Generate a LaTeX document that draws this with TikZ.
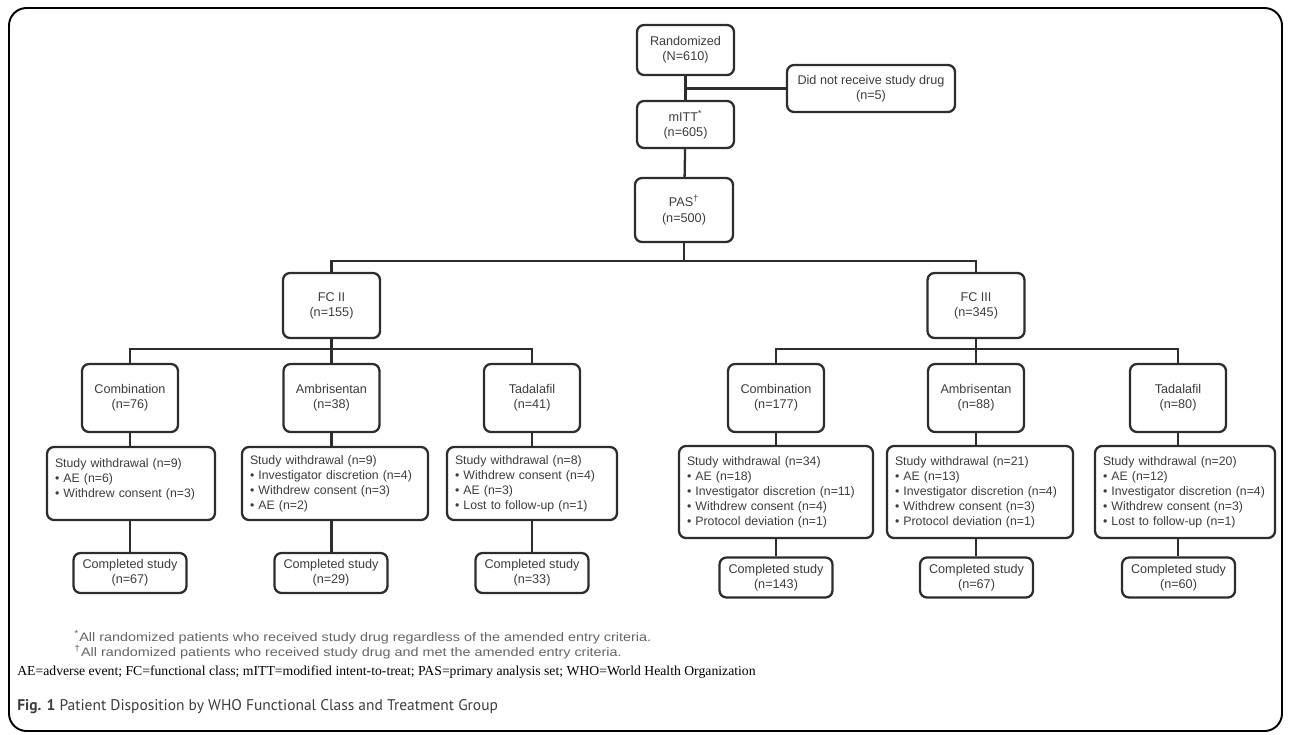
\documentclass[tikz,border=0pt]{standalone}
\usepackage{graphicx}
\usepackage{fontspec}
\setmainfont{Liberation Sans}
\newfontfamily\abbrfont{Liberation Serif}
\newfontfamily\capfont{PT Sans}
\usetikzlibrary{positioning}
\definecolor{linegray}{RGB}{45,45,45}
\definecolor{textgray}{RGB}{60,60,60}
\definecolor{notegray}{RGB}{100,100,100}

\begin{document}
\begin{tikzpicture}[x=0.02cm,y=-0.02cm,
    box/.style={draw=linegray,line width=1.3pt,rounded corners=4pt,align=center,
      font=\fontsize{7.2}{8.6}\selectfont,text=textgray,inner sep=1pt},
    wdbox/.style={box,align=left,inner xsep=0.16cm,font=\fontsize{7}{8.5}\selectfont},
    note/.style={anchor=west,inner sep=0pt,text=notegray,font=\fontsize{7}{8}\selectfont},
    link/.style={draw=linegray,line width=1.3pt}]
  \useasboundingbox (0,0) rectangle (1290,734);
  \draw[line width=1.1pt,rounded corners=10pt] (9,8) rectangle (1282,731);

  % top of the chart
  \node[box,minimum width=1.94cm,minimum height=1cm] (rand) at (685.5,50) {Randomized\\(N=610)};
  \node[box,minimum width=3.36cm,minimum height=0.94cm] (dnr) at (871,88.5) {Did not receive study drug\\(n=5)};
  \node[box,minimum width=1.94cm,minimum height=0.94cm] (mitt) at (685.5,124.5) {mITT\textsuperscript{*}\\(n=605)};
  \node[box,minimum width=1.96cm,minimum height=1.28cm] (pas) at (684,210) {PAS\textsuperscript{†}\\(n=500)};

  \node[box,minimum width=1.94cm,minimum height=1.3cm] (fc2) at (331.5,305.5) {FC II\\(n=155)};
  \node[box,minimum width=1.94cm,minimum height=1.3cm] (fc3) at (976,305.5) {FC III\\(n=345)};

  % treatment arms
  \node[box,minimum width=1.92cm,minimum height=1.36cm] (comb2) at (130,398) {Combination\\(n=76)};
  \node[box,minimum width=1.92cm,minimum height=1.36cm] (amb2) at (331.5,398) {Ambrisentan\\(n=38)};
  \node[box,minimum width=1.92cm,minimum height=1.36cm] (tad2) at (532,398) {Tadalafil\\(n=41)};
  \node[box,minimum width=1.92cm,minimum height=1.36cm] (comb3) at (776,398) {Combination\\(n=177)};
  \node[box,minimum width=1.92cm,minimum height=1.36cm] (amb3) at (976,398) {Ambrisentan\\(n=88)};
  \node[box,minimum width=1.92cm,minimum height=1.36cm] (tad3) at (1178,398) {Tadalafil\\(n=80)};

  % withdrawals
  \node[wdbox,text width=3.04cm,minimum height=1.46cm,text depth=0.8cm] (wdcomb2) at (131,483.5) {Study withdrawal (n=9)\\• AE (n=6)\\• Withdrew consent (n=3)};
  \node[wdbox,text width=3.4cm,minimum height=1.46cm] (wdamb2) at (335,483.5) {Study withdrawal (n=9)\\• Investigator discretion (n=4)\\• Withdrew consent (n=3)\\• AE (n=2)};
  \node[wdbox,text width=3.08cm,minimum height=1.46cm] (wdtad2) at (532,483.5) {Study withdrawal (n=8)\\• Withdrew consent (n=4)\\• AE (n=3)\\• Lost to follow-up (n=1)};
  \node[wdbox,text width=3.56cm,minimum height=1.84cm] (wdcomb3) at (776,492) {Study withdrawal (n=34)\\• AE (n=18)\\• Investigator discretion (n=11)\\• Withdrew consent (n=4)\\• Protocol deviation (n=1)};
  \node[wdbox,text width=3.4cm,minimum height=1.84cm] (wdamb3) at (980,492) {Study withdrawal (n=21)\\• AE (n=13)\\• Investigator discretion (n=4)\\• Withdrew consent (n=3)\\• Protocol deviation (n=1)};
  \node[wdbox,text width=3.28cm,minimum height=1.84cm] (wdtad3) at (1185,492) {Study withdrawal (n=20)\\• AE (n=12)\\• Investigator discretion (n=4)\\• Withdrew consent (n=3)\\• Lost to follow-up (n=1)};

  % completers
  \node[box,minimum width=2.26cm,minimum height=0.8cm] (endcomb2) at (130,573) {Completed study\\(n=67)};
  \node[box,minimum width=2.26cm,minimum height=0.8cm] (endamb2) at (331,573) {Completed study\\(n=29)};
  \node[box,minimum width=2.26cm,minimum height=0.8cm] (endtad2) at (532,573) {Completed study\\(n=33)};
  \node[box,minimum width=2.26cm,minimum height=0.8cm] (endcomb3) at (776,577.5) {Completed study\\(n=143)};
  \node[box,minimum width=2.26cm,minimum height=0.8cm] (endamb3) at (976.5,577.5) {Completed study\\(n=67)};
  \node[box,minimum width=2.26cm,minimum height=0.8cm] (endtad3) at (1178.5,577.5) {Completed study\\(n=60)};

  % connectors
  \coordinate (split) at (684,261);
  \coordinate (split2) at (331.5,349);
  \coordinate (split3) at (976,349);
  \draw[link] (rand) -- (mitt);
  \draw[link] (rand.south |- dnr.west) -- (dnr.west);
  \draw[link] (mitt) -- (pas);
  \draw[link] (pas) -- (split);
  \draw[link] (fc2.north) |- (split) -| (fc3.north);
  \draw[link] (fc2) -- (split2) -- (amb2);
  \draw[link] (comb2.north) |- (split2) -| (tad2.north);
  \draw[link] (fc3) -- (split3) -- (amb3);
  \draw[link] (comb3.north) |- (split3) -| (tad3.north);
  \foreach \arm in {comb2,amb2,tad2,comb3,amb3,tad3} {
    \draw[link] (\arm.south) -- (\arm.south |- wd\arm.north);
    \draw[link] (\arm.south |- wd\arm.south) -- (\arm.south |- end\arm.north);
  }

  % notes below the chart
  \node[note] (note1) at (74,637) {\scalebox{1.17}[1]{\textsuperscript{*}All randomized patients who received study drug regardless of the amended entry criteria.}};
  \node[note] (note2) at (74,652) {\scalebox{1.17}[1]{\textsuperscript{†}All randomized patients who received study drug and met the amended entry criteria.}};
  \node[anchor=west,inner sep=0pt,font=\abbrfont\fontsize{7.8}{9}\selectfont] (abbr) at (17,672) {AE=adverse event; FC=functional class; mITT=modified intent-to-treat; PAS=primary analysis set; WHO=World Health Organization};
  \node[anchor=west,inner sep=0pt,text=textgray,font=\capfont\fontsize{8.8}{11}\selectfont] (caption) at (17,707) {\textbf{Fig. 1} Patient Disposition by WHO Functional Class and Treatment Group};
\end{tikzpicture}
\end{document}
